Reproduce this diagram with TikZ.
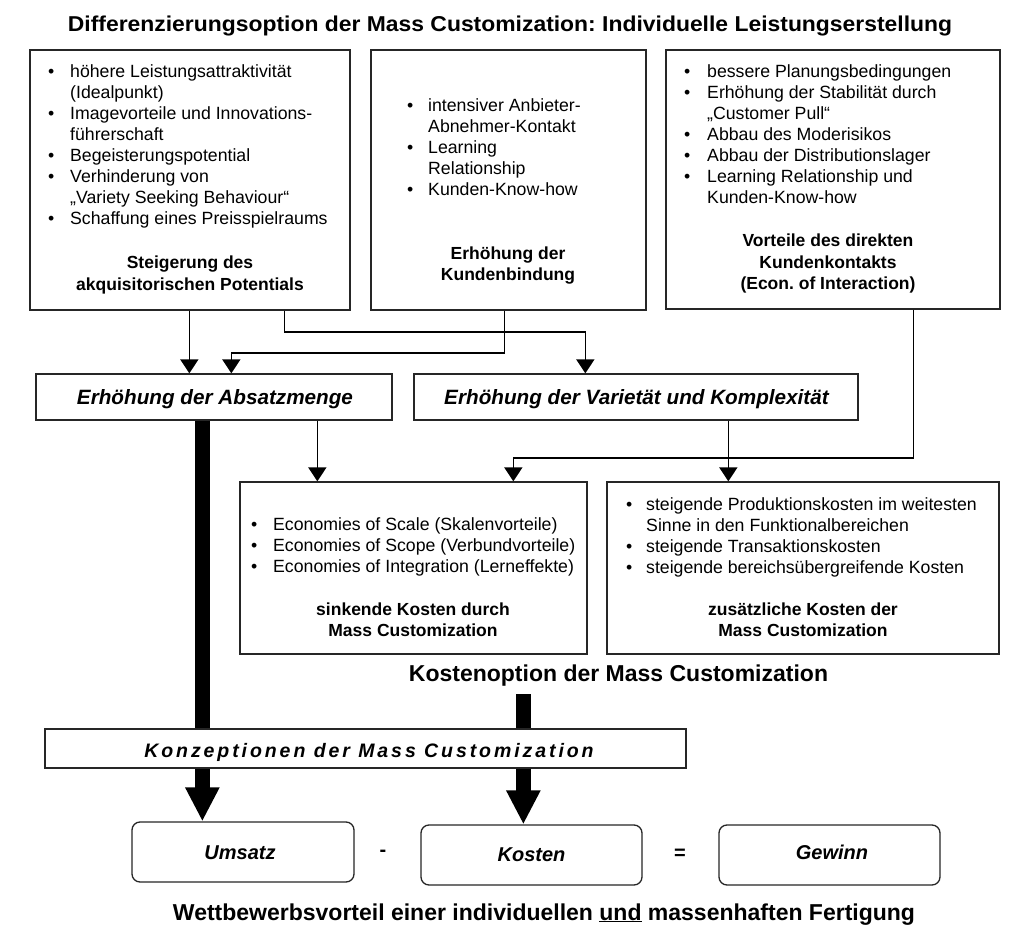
\documentclass[tikz,border=0pt]{standalone}
\usepackage{fontspec}
\setmainfont{Liberation Sans}
\usetikzlibrary{arrows.meta,calc}
\newcommand{\fsz}[2]{\fontsize{#1}{#2}\selectfont}
\newcommand{\bl}{\textbullet}
\frenchspacing
\begin{document}
\begin{tikzpicture}[x=1pt,y=-1pt,
  box/.style={draw=black!85,line width=1.3pt,fill=white,inner sep=0pt},
  rbox/.style={box,rounded corners=8pt},
  conn/.style={draw=black,line width=1.7pt,-{Triangle[width=18pt,length=14pt]}},
  thickbar/.style={draw=black,line width=14.5pt},
  thickarr/.style={draw=black,line width=14.5pt,-{Triangle[width=32pt,length=34pt]}},
  txt/.style={inner sep=0pt,font=\fsz{17.7}{21}},
  btxt/.style={inner sep=0pt,font=\fsz{17.5}{21.5}\bfseries},
  lbl/.style={inner sep=0pt,font=\fsz{20.7}{24}\bfseries\itshape},
  rlbl/.style={inner sep=0pt,font=\fsz{20}{24}\bfseries\itshape},
  head/.style={inner sep=0pt,font=\fsz{23}{27}\bfseries}
]
\useasboundingbox (0,0) rectangle (1013,939);

% title
\node[inner sep=0pt,font=\fsz{21.5}{25}\bfseries\addfontfeature{FakeStretch=1.065},anchor=base] (title) at (510,32)
  {Differenzierungsoption der Mass Customization: Individuelle Leistungserstellung};

% top boxes
\node[box,minimum width=320pt,minimum height=260pt] (A) at (190,180) {};
\node[box,minimum width=275pt,minimum height=260pt] (B) at (508.5,180) {};
\node[box,minimum width=334pt,minimum height=259pt] (C) at (833,179.5) {};

\node[txt,anchor=base west] (Atx) at (48,78) {\begin{tabular}[t]{@{}p{22pt}@{}l@{}}
\bl & höhere Leistungsattraktivität\\
    & (Idealpunkt)\\
\bl & Imagevorteile und Innovations-\\
    & führerschaft\\
\bl & Begeisterungspotential\\
\bl & Verhinderung von\\
    & „Variety Seeking Behaviour“\\
\bl & Schaffung eines Preisspielraums
\end{tabular}};
\node[btxt,anchor=base] (Ahd) at (190,269) {\begin{tabular}[t]{@{}c@{}}
Steigerung des\\ akquisitorischen Potentials\end{tabular}};

\node[txt,anchor=base west] (Btx) at (407,112) {\begin{tabular}[t]{@{}p{21pt}@{}l@{}}
\bl & intensiver Anbieter-\\
    & Abnehmer-Kontakt\\
\bl & Learning\\
    & Relationship\\
\bl & Kunden-Know-how
\end{tabular}};
\node[btxt,anchor=base] (Bhd) at (508,259) {\begin{tabular}[t]{@{}c@{}}
Erhöhung der\\ Kundenbindung\end{tabular}};

\node[txt,anchor=base west] (Ctx) at (684,78) {\begin{tabular}[t]{@{}p{23pt}@{}l@{}}
\bl & bessere Planungsbedingungen\\
\bl & Erhöhung der Stabilität durch\\
    & „Customer Pull“\\
\bl & Abbau des Moderisikos\\
\bl & Abbau der Distributionslager\\
\bl & Learning Relationship und\\
    & Kunden-Know-how
\end{tabular}};
\node[btxt,anchor=base] (Chd) at (828,247) {\begin{tabular}[t]{@{}c@{}}
Vorteile des direkten\\ Kundenkontakts\\ (Econ. of Interaction)\end{tabular}};

% middle label boxes
\node[box,minimum width=356pt,minimum height=46pt] (Abs) at (214,397) {};
\node[lbl,anchor=base] (Abst) at (215,404) {Erhöhung der Absatzmenge};
\node[box,minimum width=444pt,minimum height=46pt] (Var) at (636,397) {};
\node[lbl,anchor=base] (Vart) at (636.5,404) {Erhöhung der Varietät und Komplexität};

% cost boxes
\node[box,minimum width=347pt,minimum height=172pt] (Eco) at (413.5,568) {};
\node[box,minimum width=392pt,minimum height=172pt] (Zus) at (803,568) {};

\node[txt,anchor=base west] (Ecotx) at (251,530) {\begin{tabular}[t]{@{}p{22pt}@{}l@{}}
\bl & Economies of Scale (Skalenvorteile)\\
\bl & Economies of Scope (Verbundvorteile)\\
\bl & Economies of Integration (Lerneffekte)
\end{tabular}};
\node[btxt,anchor=base] (Ecohd) at (413,615) {\begin{tabular}[t]{@{}c@{}}
sinkende Kosten durch\\ Mass Customization\end{tabular}};

\node[txt,anchor=base west] (Zustx) at (626,510) {\begin{tabular}[t]{@{}p{20pt}@{}l@{}}
\bl & steigende Produktionskosten im weitesten\\
    & Sinne in den Funktionalbereichen\\
\bl & steigende Transaktionskosten\\
\bl & steigende bereichsübergreifende Kosten
\end{tabular}};
\node[btxt,anchor=base] (Zushd) at (803,615) {\begin{tabular}[t]{@{}c@{}}
zusätzliche Kosten der\\ Mass Customization\end{tabular}};

\node[head,anchor=base] (Kopt) at (618.5,681) {Kostenoption der Mass Customization};

% Konzeptionen
\node[box,minimum width=641pt,minimum height=39pt] (Konz) at (365.5,748.5) {};
\node[inner sep=0pt,anchor=base,font=\fsz{19.5}{23}\bfseries\itshape\addfontfeature{LetterSpace=15}] (Konzt) at (369,757)
  {Konzeptionen der Mass Customization};

% result boxes
\node[rbox,minimum width=222pt,minimum height=60pt] (Ums) at (243,852) {};
\node[rlbl,anchor=base] (Umst) at (240,859) {Umsatz};
\node[rbox,minimum width=221pt,minimum height=60pt] (Kos) at (531.5,855) {};
\node[rlbl,anchor=base] (Kost) at (531.5,861) {Kosten};
\node[rbox,minimum width=221pt,minimum height=60pt] (Gew) at (829.5,855) {};
\node[rlbl,anchor=base] (Gewt) at (832,859) {Gewinn};
\node[inner sep=0pt,font=\fsz{20}{24}\bfseries] (minus) at (383,853) {-};
\node[inner sep=0pt,font=\fsz{20}{24}\bfseries] (equals) at (680,854) {=};

\node[head,anchor=base] (bottom) at (544,920) {Wettbewerbsvorteil einer individuellen \underline{und} massenhaften Fertigung};

% connectors top
\coordinate (a1) at ($(A.south west)+(160,0)$);
\coordinate (a2) at ($(A.south west)+(255,0)$);
\coordinate (b1) at ($(B.south west)+(134,0)$);
\coordinate (c1) at ($(C.south west)+(248,0)$);
\coordinate (abs1) at ($(Abs.north west)+(154,0)$);
\coordinate (abs2) at ($(Abs.north west)+(196,0)$);
\coordinate (var1) at ($(Var.north west)+(172,0)$);
\coordinate (absS) at ($(Abs.south west)+(282,0)$);
\coordinate (varS) at ($(Var.south west)+(315,0)$);
\coordinate (eco1) at ($(Eco.north west)+(78,0)$);
\coordinate (eco2) at ($(Eco.north west)+(274,0)$);
\coordinate (zus1) at ($(Zus.north west)+(122,0)$);

\draw[conn] (a1) -- (abs1);
\draw[conn] (a2) -- ++(0,21) -| (var1);
\draw[conn] (b1) -- ++(0,42) -| (abs2);
\draw[conn] (c1) -- ++(0,148) -| (eco2);
\draw[conn] (absS) -- (eco1);
\draw[conn] (varS) -- (zus1);

% thick bars
\coordinate (absT) at ($(Abs.south west)+(167,0)$);
\coordinate (konzT1) at ($(Konz.north west)+(158,0)$);
\coordinate (konzB1) at ($(Konz.south west)+(158,0)$);
\coordinate (umsT) at ($(Ums.north west)+(71,0)$);
\coordinate (koptB) at ($(Konz.north west)+(479,-34)$);
\coordinate (konzT2) at ($(Konz.north west)+(479,0)$);
\coordinate (konzB2) at ($(Konz.south west)+(479,0)$);
\coordinate (kosT) at ($(Kos.north west)+(103,0)$);

\draw[thickbar] (absT) -- (konzT1);
\draw[thickarr] (konzB1) -- (umsT);
\draw[thickbar] (koptB) -- (konzT2);
\draw[thickarr] (konzB2) -- (kosT);
\end{tikzpicture}
\end{document}
